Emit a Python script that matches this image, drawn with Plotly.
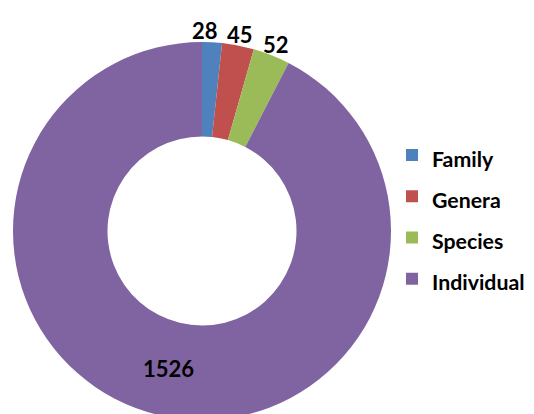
import math
import plotly.graph_objects as go

categories = ["Family", "Genera", "Species", "Individual"]
values = [28, 45, 52, 1526]
colors = ["#4F81BD", "#C0504D", "#9BBB59", "#8064A2"]
label_inside = [False, False, False, True]

W, H = 534, 414
FONT = "Lato"
LABEL_SIZE = 22
dom_x = [5 / W, 383 / W]
dom_y = [2 / H, 380 / H]

legend_labels = [f"<span style='font-size:21.3px'>{c}</span>" for c in categories]

fig = go.Figure(
    go.Pie(
        labels=legend_labels,
        values=values,
        customdata=categories,
        hovertemplate="%{customdata}: %{value}<extra></extra>",
        hole=0.5,
        sort=False,
        direction="clockwise",
        rotation=0,
        marker=dict(colors=colors, line=dict(width=0)),
        texttemplate=["%{value}" if ins else "" for ins in label_inside],
        textposition=["inside" if ins else "none" for ins in label_inside],
        insidetextorientation="horizontal",
        insidetextfont=dict(family=FONT, size=LABEL_SIZE, color="black", weight="bold"),
        domain=dict(x=dom_x, y=dom_y),
    )
)

# value labels of the thin slices, placed just outside the ring at each slice's mid angle
cx = (dom_x[0] + dom_x[1]) / 2 * W
cy = (dom_y[0] + dom_y[1]) / 2 * H  # measured from the bottom
r = min((dom_x[1] - dom_x[0]) * W, (dom_y[1] - dom_y[0]) * H) / 2
total = sum(values)
cum = 0
outs = []
for v, ins in zip(values, label_inside):
    mid = math.radians((cum + v / 2) / total * 360)
    cum += v
    if ins:
        continue
    rr = r * 1.06
    outs.append(dict(text=str(v), x=cx + rr * math.sin(mid), y=cy + rr * math.cos(mid),
                     w=len(str(v)) * 0.58 * LABEL_SIZE, h=0.75 * LABEL_SIZE))

# keep neighbouring labels apart: shift an earlier label left if it runs into the next one
gap = 10
for i in range(len(outs) - 2, -1, -1):
    a, b = outs[i], outs[i + 1]
    if abs(a["y"] - b["y"]) < (a["h"] + b["h"]) / 2:
        limit = b["x"] - b["w"] / 2 - gap
        if a["x"] + a["w"] / 2 > limit:
            a["x"] = limit - a["w"] / 2

for o in outs:
    fig.add_annotation(
        x=o["x"] / W,
        y=o["y"] / H,
        xref="paper",
        yref="paper",
        text=o["text"],
        showarrow=False,
        xanchor="center",
        yanchor="middle",
        font=dict(family=FONT, size=LABEL_SIZE, color="black", weight="bold"),
    )

fig.update_layout(
    width=W,
    height=H,
    margin=dict(l=0, r=0, t=0, b=0, autoexpand=False),
    paper_bgcolor="white",
    plot_bgcolor="white",
    font=dict(family=FONT, color="black"),
    showlegend=True,
    legend=dict(
        x=384 / W,
        xanchor="left",
        y=1 - 121.5 / H,
        yanchor="top",
        font=dict(family=FONT, size=29.4, color="black", weight="bold"),
        bgcolor="rgba(0,0,0,0)",
    ),
)

fig.write_html("out.html")
